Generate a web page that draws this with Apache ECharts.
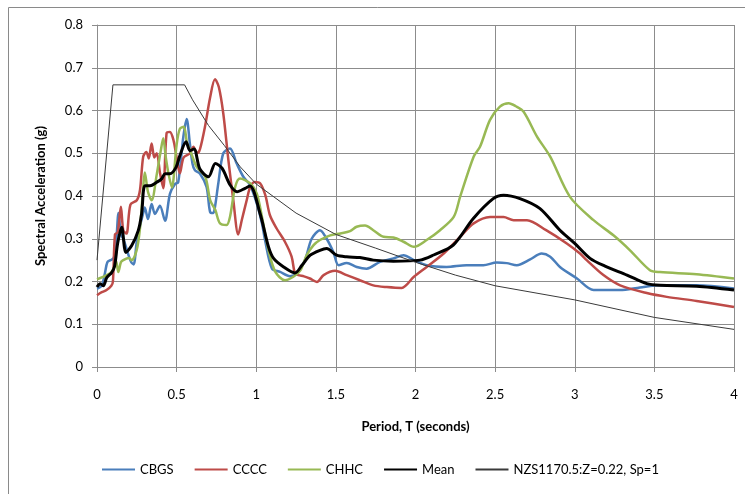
<!DOCTYPE html>
<html>
<head>
<meta charset="utf-8">
<script src="https://cdn.jsdelivr.net/npm/echarts@6/dist/echarts.min.js"></script>
<style>
  html, body { margin: 0; padding: 0; background: #fff; }
  #chart { width: 745px; height: 494px; }
</style>
</head>
<body>
<div id="chart"></div>
<script>
// spectral acceleration [period T (s), Sa (g)]
const cbgs = [[0,0.183],[0.03,0.19],[0.05,0.22],[0.065,0.245],[0.085,0.25],[0.105,0.255],[0.12,0.29],[0.135,0.36],[0.15,0.31],[0.165,0.3],[0.195,0.265],[0.215,0.245],[0.23,0.24],[0.25,0.295],[0.27,0.33],[0.29,0.36],[0.3,0.373],[0.32,0.346],[0.343,0.381],[0.364,0.358],[0.395,0.377],[0.427,0.342],[0.458,0.405],[0.49,0.428],[0.51,0.432],[0.542,0.538],[0.563,0.58],[0.584,0.52],[0.6,0.475],[0.615,0.46],[0.647,0.452],[0.688,0.421],[0.71,0.363],[0.73,0.36],[0.741,0.375],[0.762,0.43],[0.793,0.5],[0.835,0.511],[0.877,0.476],[0.919,0.445],[0.961,0.4255],[1.003,0.383],[1.036,0.336],[1.055,0.297],[1.099,0.23],[1.15,0.2225],[1.212,0.2125],[1.254,0.219],[1.306,0.25],[1.348,0.3],[1.4,0.32],[1.442,0.3],[1.484,0.269],[1.517,0.238],[1.568,0.2435],[1.631,0.234],[1.693,0.23],[1.777,0.246],[1.861,0.254],[1.925,0.2616],[1.99,0.25],[2.07,0.238],[2.195,0.234],[2.32,0.238],[2.426,0.238],[2.51,0.2445],[2.573,0.243],[2.636,0.238],[2.72,0.2515],[2.792,0.2655],[2.846,0.258],[2.907,0.234],[3.014,0.207],[3.118,0.18],[3.285,0.18],[3.41,0.186],[3.535,0.191],[3.765,0.191],[4,0.1835]];

const cccc = [[0,0.168],[0.03,0.175],[0.06,0.18],[0.09,0.19],[0.1,0.2],[0.113,0.31],[0.13,0.315],[0.15,0.375],[0.165,0.32],[0.185,0.312],[0.21,0.38],[0.25,0.39],[0.27,0.414],[0.29,0.492],[0.31,0.503],[0.325,0.488],[0.343,0.523],[0.36,0.49],[0.375,0.5],[0.396,0.453],[0.416,0.418],[0.437,0.547],[0.458,0.55],[0.48,0.531],[0.5,0.49],[0.52,0.453],[0.544,0.49],[0.584,0.5],[0.605,0.515],[0.63,0.5],[0.647,0.51],[0.678,0.562],[0.71,0.63],[0.741,0.673],[0.765,0.655],[0.793,0.593],[0.825,0.484],[0.856,0.39],[0.887,0.31],[0.91,0.345],[0.94,0.39],[0.961,0.42],[0.99,0.433],[1.024,0.43],[1.057,0.402],[1.086,0.355],[1.128,0.324],[1.18,0.293],[1.222,0.258],[1.243,0.219],[1.264,0.215],[1.3,0.212],[1.337,0.207],[1.381,0.199],[1.423,0.215],[1.495,0.225],[1.568,0.215],[1.651,0.203],[1.735,0.191],[1.82,0.187],[1.913,0.185],[1.99,0.211],[2.07,0.234],[2.177,0.2655],[2.28,0.3045],[2.365,0.336],[2.468,0.351],[2.553,0.351],[2.616,0.3435],[2.7,0.3435],[2.82,0.32],[2.95,0.289],[3.033,0.2655],[3.075,0.25],[3.18,0.215],[3.285,0.191],[3.452,0.173],[3.578,0.164],[3.765,0.1545],[4,0.1405]];

const chhc = [[0,0.205],[0.05,0.213],[0.09,0.222],[0.11,0.235],[0.12,0.248],[0.134,0.222],[0.15,0.245],[0.165,0.25],[0.2,0.255],[0.218,0.25],[0.249,0.273],[0.27,0.325],[0.29,0.42],[0.3,0.455],[0.32,0.41],[0.343,0.39],[0.375,0.45],[0.4,0.505],[0.416,0.535],[0.432,0.49],[0.45,0.45],[0.47,0.42],[0.5,0.52],[0.52,0.557],[0.545,0.562],[0.565,0.525],[0.584,0.5075],[0.626,0.468],[0.68,0.445],[0.711,0.39],[0.743,0.367],[0.772,0.336],[0.814,0.332],[0.835,0.351],[0.868,0.4215],[0.898,0.441],[0.961,0.43],[1.003,0.406],[1.036,0.351],[1.077,0.273],[1.12,0.2225],[1.18,0.203],[1.233,0.211],[1.277,0.226],[1.317,0.2616],[1.36,0.285],[1.4,0.297],[1.465,0.308],[1.528,0.3125],[1.589,0.318],[1.63,0.328],[1.683,0.331],[1.735,0.32],[1.8,0.3045],[1.862,0.303],[1.925,0.293],[1.99,0.281],[2.07,0.297],[2.154,0.32],[2.24,0.351],[2.28,0.398],[2.365,0.492],[2.405,0.515],[2.468,0.578],[2.53,0.609],[2.585,0.617],[2.63,0.61],[2.679,0.597],[2.763,0.539],[2.846,0.492],[2.97,0.398],[3.118,0.3435],[3.243,0.308],[3.347,0.273],[3.472,0.2265],[3.535,0.222],[3.765,0.217],[4,0.207]];

const mean = [[0,0.187],[0.02,0.195],[0.04,0.19],[0.061,0.209],[0.092,0.221],[0.11,0.235],[0.13,0.29],[0.155,0.327],[0.182,0.268],[0.218,0.284],[0.259,0.319],[0.28,0.358],[0.301,0.424],[0.333,0.424],[0.374,0.432],[0.406,0.44],[0.427,0.452],[0.458,0.452],[0.496,0.467],[0.521,0.495],[0.559,0.527],[0.584,0.506],[0.609,0.51],[0.646,0.463],[0.7,0.445],[0.743,0.476],[0.785,0.465],[0.837,0.425],[0.879,0.41],[0.93,0.418],[0.961,0.4235],[1.024,0.359],[1.077,0.281],[1.109,0.254],[1.172,0.234],[1.243,0.22],[1.287,0.238],[1.339,0.2616],[1.4,0.273],[1.442,0.277],[1.505,0.2616],[1.568,0.2577],[1.651,0.256],[1.735,0.25],[1.861,0.2475],[2.028,0.25],[2.114,0.262],[2.237,0.285],[2.363,0.3475],[2.488,0.394],[2.553,0.402],[2.656,0.394],[2.78,0.371],[2.907,0.32],[3,0.289],[3.096,0.254],[3.19,0.236],[3.328,0.215],[3.452,0.195],[3.535,0.191],[3.765,0.189],[4,0.18]];

// design spectrum NZS1170.5
const nzs = [[0,0.25],[0.1,0.66],[0.55,0.66],[0.6,0.625],[0.7,0.565],[0.8,0.518],[0.9,0.468],[1.0,0.428],[1.25,0.36],[1.5,0.31],[1.75,0.278],[2.0,0.245],[2.25,0.215],[2.5,0.19],[3.0,0.157],[3.5,0.116],[4.0,0.088]];

const seriesNames = ['CBGS', 'CCCC', 'CHHC', 'Mean', 'NZS1170.5:Z=0.22, Sp=1'];
const seriesColors = ['#4a7ebb', '#be4b48', '#98b954', '#000000', '#3a3a3a'];

const chart = echarts.init(document.getElementById('chart'));
const font = 'Lato, "Open Sans", sans-serif';
const gridColor = '#8c8c8c';

const mk = (i, data, width, smooth) => ({
    name: seriesNames[i],
    type: 'line',
    data: data,
    showSymbol: false,
    symbol: 'none',
    smooth: smooth,
    lineStyle: { color: seriesColors[i], width: width },
    itemStyle: { color: seriesColors[i] },
    z: 2 + i
});

chart.setOption({
    animation: false,
    graphic: [{
        type: 'rect',
        shape: { x: 8.5, y: 7.5, width: 745, height: 500 },
        style: { fill: 'none', stroke: '#8a8a8a', lineWidth: 1 },
        silent: true
    }],
    grid: { left: 97, top: 25, width: 637, height: 342 },
    legend: {
        left: 96,
        top: 458,
        itemWidth: 33,
        itemHeight: 10,
        itemGap: 20,
        textStyle: { fontFamily: font, fontSize: 13, color: '#000' },
        data: seriesNames.map(n => ({ name: n, itemStyle: { opacity: 0 } }))
    },
    xAxis: {
        type: 'value',
        min: 0, max: 4, interval: 0.5,
        name: 'Period, T (seconds)',
        nameLocation: 'middle',
        nameGap: 53,
        nameTextStyle: { fontFamily: font, fontSize: 13, fontWeight: 'bold', color: '#000' },
        axisLine: { show: true, lineStyle: { color: gridColor } },
        axisTick: { show: true, length: 5, lineStyle: { color: gridColor } },
        axisLabel: { margin: 21, fontFamily: font, fontSize: 13, color: '#000' },
        splitLine: { show: true, lineStyle: { color: gridColor, width: 1 } }
    },
    yAxis: {
        type: 'value',
        min: 0, max: 0.8, interval: 0.1,
        name: 'Spectral Acceleration (g)',
        nameLocation: 'middle',
        nameGap: 50,
        nameTextStyle: { fontFamily: font, fontSize: 13, fontWeight: 'bold', color: '#000' },
        axisLine: { show: true, lineStyle: { color: gridColor } },
        axisTick: { show: true, length: 5, lineStyle: { color: gridColor } },
        axisLabel: { margin: 14, fontFamily: font, fontSize: 13, color: '#000',
            formatter: v => String(+v.toFixed(1)) },
        splitLine: { show: true, lineStyle: { color: gridColor, width: 1 } }
    },
    series: [
        mk(0, cbgs, 2.5, 0.3),
        mk(1, cccc, 2.5, 0.3),
        mk(2, chhc, 2.5, 0.3),
        mk(3, mean, 3, 0.3),
        mk(4, nzs, 1, false)
    ]
});
</script>
</body>
</html>
